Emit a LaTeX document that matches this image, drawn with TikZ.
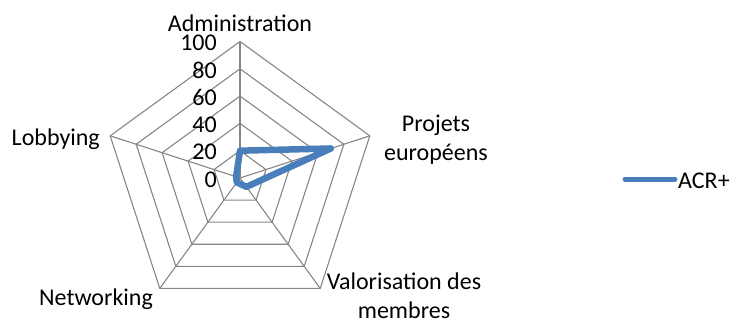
\documentclass[tikz,border=0pt]{standalone}
\usepackage{fontspec}
\setmainfont{Carlito}
\definecolor{gridgray}{RGB}{134,134,134}
\definecolor{serieblue}{RGB}{74,126,187}
\begin{document}
\begin{tikzpicture}[x=1pt,y=-1pt,
  grid/.style={draw=gridgray,line width=1.1pt,line join=miter},
  series/.style={draw=serieblue,line width=6.5pt,line join=round,line cap=round},
  lbl/.style={font=\fontsize{24}{29}\selectfont,inner sep=0pt,align=center},
  ticklbl/.style={font=\fontsize{24}{29}\selectfont,inner sep=0pt,anchor=east}]
\useasboundingbox (0,0) rectangle (735,324);
\def\cx{240}\def\cy{178}\def\R{136.5}
\coordinate (c) at (\cx,\cy);
% grid rings
\foreach \r in {1,...,5}{
  \draw[grid] ({\cx},{\cy-\R*\r/5})
    -- ({\cx+\R*\r/5*sin(72)},{\cy-\R*\r/5*cos(72)})
    -- ({\cx+\R*\r/5*sin(144)},{\cy-\R*\r/5*cos(144)})
    -- ({\cx+\R*\r/5*sin(216)},{\cy-\R*\r/5*cos(216)})
    -- ({\cx+\R*\r/5*sin(288)},{\cy-\R*\r/5*cos(288)}) -- cycle;
}
% spokes
\foreach \k in {0,...,4}{
  \coordinate (v\k) at ({\cx+\R*sin(72*\k)},{\cy-\R*cos(72*\k)});
  \draw[grid] (c) -- (v\k);
}
% tick labels
\foreach \v in {0,20,...,100}{
  \node[ticklbl] (t\v) at (217,{\cy-\R*\v/100+1.5}) {\v};
}
% axis labels
\node[lbl,anchor=base] (admin) at (240,31) {Administration};
\node[lbl,anchor=base] (projets) at (436,160) {Projets\\européens};
\node[lbl,anchor=base] (valor) at (404,318) {Valorisation des\\membres};
\node[lbl,anchor=base east] (netw) at (153,305) {Networking};
\node[lbl,anchor=base east] (lobby) at (100,145) {Lobbying};
% series
\foreach \v [count=\i from 0] in {20,70,8,4,3}{
  \coordinate (p\i) at ({\cx+\R*\v/100*sin(72*\i)},{\cy-\R*\v/100*cos(72*\i)});
}
\draw[series] (p0) -- (p1) -- (p2) -- (p3) -- (p4) -- cycle;
% legend
\coordinate (lgA) at (625,179);
\node[lbl,anchor=base west] (acr) at (678,188) {ACR+};
\draw[series,line width=5pt] (lgA) -- ([xshift=-3pt]acr.west |- lgA);
\end{tikzpicture}
\end{document}
